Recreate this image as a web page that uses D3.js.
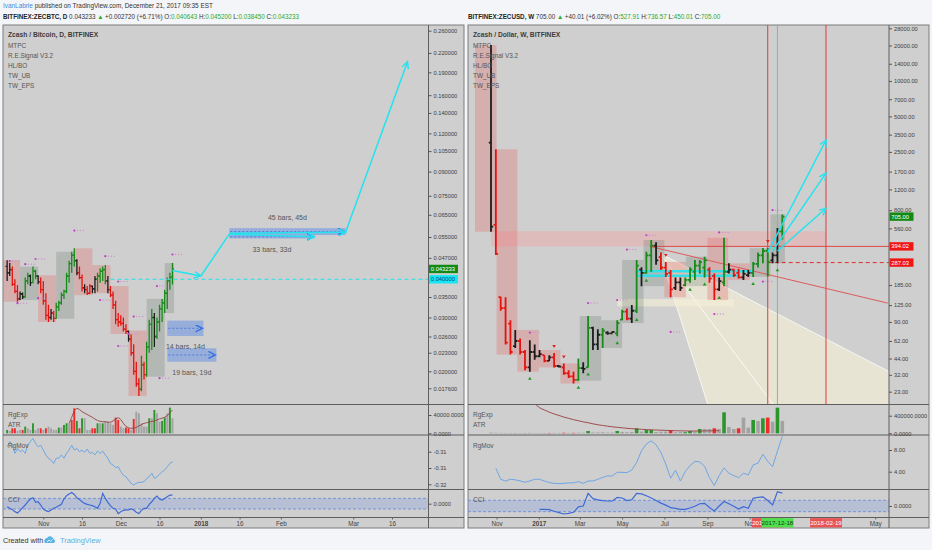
<!DOCTYPE html>
<html><head><meta charset="utf-8">
<script src="https://cdn.jsdelivr.net/npm/d3@7/dist/d3.min.js"></script>
<style>
html,body{margin:0;padding:0;background:#f3f5f8;}
svg{display:block;font-family:"Liberation Sans",Arial,sans-serif;}
</style></head><body>
<svg id="chart" width="932" height="550"></svg>
<script>
// ================= DATA : ZEC/BTC daily (Bitfinex) =================
const btcFirstDay = "2017-10-18";
const btcOpen  = [.0441,.0420,.0430,.0385,.0365,.0345,.0358,.0350,.0395,.0410,.0390,.0425,.0410,.0392,.0370,.0340,.0305,.0300,.0310,.0298,.0325,.0335,.0355,.0365,.0410,.0450,.0480,.0460,.0420,.0405,.0375,.0370,.0360,.0380,.0372,.0400,.0410,.0425,.0430,.0395,.0370,.0355,.0330,.0295,.0290,.0287,.0275,.0270,.0255,.0230,.0200,.0182,.0175,.0210,.0195,.0240,.0285,.0300,.0260,.0290,.0320,.0335,.0360,.0395,.040643];
const btcHigh  = [.0462,.0452,.0440,.0400,.0383,.0365,.0362,.0405,.0420,.0415,.0440,.0430,.0412,.0405,.0395,.0360,.0330,.0320,.0315,.0335,.0340,.0362,.0370,.0420,.0460,.0492,.0505,.0465,.0440,.0415,.0385,.0380,.0385,.0382,.0410,.0420,.0435,.0440,.0445,.0410,.0380,.0365,.0340,.0310,.0305,.0300,.0285,.0272,.0265,.0245,.0215,.0190,.0225,.0215,.0250,.0295,.0320,.0310,.0300,.0330,.0345,.0370,.0405,.0420,.0452];
const btcLow   = [.0395,.0410,.0380,.0360,.0338,.0342,.0345,.0348,.0385,.0380,.0388,.0400,.0385,.0360,.0330,.0295,.0290,.0295,.0290,.0297,.0315,.0330,.0345,.0360,.0390,.0420,.0440,.0412,.0400,.0365,.0360,.0355,.0358,.0360,.0360,.0365,.0390,.0395,.0385,.0360,.0350,.0320,.0285,.0280,.0282,.0270,.0265,.0250,.0225,.0195,.0178,.0166,.0172,.0188,.0192,.0230,.0235,.0240,.0255,.0270,.0290,.0310,.0320,.0370,.03845];
const btcClose = [.0420,.0430,.0385,.0365,.0345,.0358,.0350,.0395,.0410,.0390,.0425,.0410,.0392,.0370,.0340,.0305,.0300,.0310,.0298,.0325,.0335,.0355,.0365,.0410,.0450,.0480,.0460,.0420,.0405,.0375,.0370,.0360,.0380,.0372,.0400,.0410,.0425,.0430,.0395,.0370,.0355,.0330,.0295,.0290,.0287,.0275,.0270,.0255,.0230,.0200,.0182,.0175,.0210,.0195,.0240,.0285,.0300,.0260,.0290,.0320,.0335,.0360,.0395,.0406,.043233];
const btcState = "kkrrrkkggkggkrrrrkrggggggggkrrkrrkkggggkrrrrrrrkrrrrgrgggkgggggggg".slice(0,65).split("");
const btcVolume = [7300,5100,10900,10900,5100,7300,7300,14600,10900,7300,21900,7300,10900,10900,7300,10900,14600,10900,7300,7300,12400,12400,18200,21900,21900,29100,54600,27000,10900,32800,32800,7300,7300,10900,10900,21900,21900,21900,27000,25500,21900,18200,34300,29100,14600,10900,12400,10900,7300,31300,47400,43700,21900,14600,14600,32800,32800,51000,43700,25500,27000,34300,43700,56100,32800];
const btcVolState = "gkrrkkrgkkgkkrkrkkkkgkggkrrgrgkkkrrgkgkkkkrrkkrrkrkkkkkgkgkkggkgk".split("");
const btcAtrStart = 24;
const btcAtr = [21900,35000,50000,54600,52000,47400,44000,41000,38000,35000,31000,28000,26000,25500,25000,24500,24000,27000,31000,34300,30000,22000,15000,12000,10900,11000,13000,16000,19000,21900,23000,24500,26000,27000,29000,31300,33000,35000,38600,45000,51000];
const btcRgMov = [-0.3035,-0.3019,-0.3030,-0.3055,-0.3040,-0.3050,-0.3045,-0.3055,-0.3030,-0.3019,-0.3009,-0.3024,-0.3035,-0.3030,-0.3045,-0.3060,-0.3070,-0.3076,-0.3086,-0.3070,-0.3070,-0.3060,-0.3070,-0.3055,-0.3045,-0.3030,-0.3045,-0.3040,-0.3050,-0.3045,-0.3052,-0.3042,-0.3055,-0.3052,-0.3060,-0.3048,-0.3055,-0.3048,-0.3060,-0.3070,-0.3086,-0.3091,-0.3099,-0.3096,-0.3111,-0.3122,-0.3127,-0.3137,-0.3147,-0.3152,-0.3147,-0.3144,-0.3144,-0.3142,-0.3132,-0.3127,-0.3116,-0.3132,-0.3127,-0.3119,-0.3111,-0.3106,-0.3096,-0.3086,-0.3081];
const btcCci = [-56,-87,-112,-150,-175,-131,-75,-25,37,87,112,25,37,-25,-100,-131,-150,-118,-87,-68,-37,-12,87,150,181,212,175,112,81,37,6,-12,-25,-37,-56,-87,6,193,100,25,-37,-87,-100,-187,-150,-125,-118,-118,-100,-118,-162,-187,-125,-87,-87,-12,37,100,143,87,68,100,131,162,162];
const btcPriceTicks = [0.26,0.22,0.19,0.16,0.14,0.12,0.105,0.09,0.075,0.065,0.055,0.047,0.035,0.03,0.026,0.023,0.02,0.0176];
const btcDateTicks = [["2017-11-01","Nov"],["2017-11-16","16"],["2017-12-01","Dec"],["2017-12-16","16"],["2018-01-01","2018"],["2018-01-16","16"],["2018-02-01","Feb"],["2018-03-01","Mar"],["2018-03-16","16"]];
const btcVolTicks = [40000,0], btcVolTickLabels = ["40000.0000","0.0000"];
const btcMovTicks = [-0.305,-0.31,-0.315], btcMovTickLabels = ["-0.31","-0.31","-0.32"];
const btcDots = [[1,.0459],[7,.0448],[11,.0466],[26,.0577],[38,.0476],[43,.0393],[36,.0342],[12,.0347],[4,.0334],[64,.0482],[58,.0380],[43,.0242],[47,.0265],[49,.0302],[59,.0190]];
const btcRanges = [
  {from:"2017-12-19", to:"2018-01-02", lo:0.0261, hi:0.0293, label:"14 bars, 14d", pos:"below"},
  {from:"2017-12-19", to:"2018-01-07", lo:0.0215, hi:0.0238, label:"19 bars, 19d", pos:"below"},
  {from:"2018-01-12", to:"2018-02-26", lo:0.0558, hi:0.0588, label:"45 bars, 45d", pos:"above"},
  {from:"2018-01-12", to:"2018-02-14", lo:0.0544, hi:0.0558, label:"33 bars, 33d", pos:"below"}];
const btcArrows = [
  [["2017-12-21",0.0427],["2018-01-01",0.0410]],
  [["2018-01-12",0.0566],["2018-02-26",0.0570]],
  [["2018-01-12",0.0561],["2018-02-14",0.0551]],
  [["2018-02-26",0.0569],["2018-03-22",0.2059]]];
const btcLegs = [[["2018-01-01",0.0410],["2018-01-12",0.0562]]];
const btcDashLevel = {from:"2017-11-27", v:0.04};

// ================= DATA : ZEC/USD weekly (Bitfinex) =================
const zecFirstWeek = "2016-10-24";
const zecOpen  = [3000,600,146,118,87,56,62,50,37,50,46,47,42,45,38,37,33,31,29,36.5,37,80,58,70,73,72,72,94,110,96,112,250,235,330,400,320,260,235,175,195,185,205,240,270,260,250,220,170,195,240,250,235,215,225,235,280,330,360,300,330,527.91];
const zecHigh  = [20200,2630,147,146,93,77,65,52,63,58,52,47,47,49,38.5,40,35,34,44,41,101,82,78,80,75,75,93,114,117,125,302,262,354,446,428,349,291,248,214,214,214,262,302,302,322,262,232,214,466,283,254,254,248,248,291,349,381,381,349,565,736.57];
const zecLow   = [525,333,112,58,47.5,54,47.5,35,34,43,45,41,42,37,37,32,30,27,28.5,33,37,52,52,54,70,72,68,93,93,88,107,181,231,240,275,248,217,146,168,165,181,194,204,231,214,194,138,165,181,232,217,210,204,217,217,261,283,220,283,283,450.01];
const zecClose = [580,340,118,60,50,62,50,37,50,46,48,42,45,38,37.5,33,31,29,36.5,36,80,58,70,76,72,74,88,110,96,112,270,235,330,400,300,260,230,170,195,175,205,250,270,290,300,210,170,200,240,250,225,215,230,235,280,330,360,290,330,528,705];
const zecState = "krrrrkrrkkkrkrkrrrgkgkkgkkggrkgkggkrrrkkgggggrrkgkrrkkggggkkgg".split("");
const zecVolume = [15000,12000,10000,9000,8000,8000,7000,9000,11000,8000,7000,9000,8000,10000,9000,12000,11000,10000,14000,12000,52000,20000,18000,22000,15000,16000,52000,30000,25000,28000,114000,40000,75000,75000,30000,38000,40000,75000,25000,30000,25000,52000,40000,98000,98000,98000,114000,98000,477000,144000,98000,114000,356000,129000,303000,280000,341000,356000,265000,583000,280000];
const zecVolState = "kkkkkkkkkkkkrkkrkrkkgkkkkkgkkkgkggkkkrkkggkgkkrkgkkrkkgkgrkgk".split("");
const zecAtrStart = 8;
const zecAtr = [800000,680000,582000,530000,480000,440000,405000,370000,340000,310000,285000,260000,240000,215000,195000,178000,162000,148000,136000,125000,114000,105000,98000,90000,84000,79000,75000,70000,66000,62000,59000,56000,54000,52000,52000,52000,54000,56000,58000,60000];
const zecRgMovStart = 1;
const zecRgMov = [4.63,2.6,2.29,2.6,2.5,2.3,2.05,2.3,2.6,2.6,2.29,2.0,1.85,1.80,1.86,1.92,1.95,2.17,1.86,2.29,2.29,2.6,2.95,3.22,3.22,3.9,3.87,3.84,4.3,5.7,7.85,9.1,9.69,8.95,7.53,5.4,2.79,4.27,2.29,4.02,5.13,5.9,5.8,5.0,2.91,1.43,3.3,4.7,3.71,3.28,2.91,3.71,3.41,5.26,5.56,7.22,5.87,4.94,7.8,10.5];
const zecCciStart = 10;
const zecCci = [-58,-58,-65,-92,-115,-140,-129,-111,-15,0,220,130,108,95,88,88,150,140,95,110,220,212,180,140,95,50,15,-30,-41,-60,-60,-35,-5,40,47,-25,-88,0,80,40,-5,-55,-12,-41,134,150,160,95,18,251,225];
const zecPriceTicks = [28000,20000,14000,10000,7000,5000,3500,2500,1700,1200,800,560,185,125,90,62,44,32,23];
const zecDateTicks = [["2016-11-01","Nov"],["2017-01-01","2017"],["2017-03-01","Mar"],["2017-05-01","May"],["2017-07-01","Jul"],["2017-09-01","Sep"],["2017-11-01","Nov"],["2018-05-01","May"]];
const zecVolTicks = [400000,0], zecVolTickLabels = ["400000.0000","0.0000"];
const zecMovTicks = [8,4], zecMovTickLabels = ["8.00","4.00"];
const zecDots = [[8,73],[20,130],[26,138],[28,370],[32,490],[37,74],[46,105],[47,518],[56,198],[58,800]];
const zecUpMarks = [8,18,20,26,30,32,41,44,47,54,59];
const zecDownMarks = [13,15,36,57];
const zecPinkBand = {from:"2016-10-24", to:"2018-02-19", lo:394.02, hi:530};
const zecBeigeBand = {from:"2017-04-24", to:"2017-10-09", lo:122, hi:141};
const zecCyanLevels = [{from:"2017-05-22", to:"2017-11-06", v:242},{from:"2017-05-22", to:"2017-10-16", v:222}];
const zecRedLevel = {from:"2017-06-10", v:394.02};
const zecRedDashed = {from:"2017-11-27", v:287.03};
const zecTrend = [["2017-06-10",394.02],["2018-05-19",130]];
const zecFanApex = ["2017-06-24",346];
const zecFanEnds = [["2017-09-04",16.1],["2017-12-11",16.1],["2018-06-05",30.7]];
const zecTargets = [[["2017-11-27",350],["2018-02-19",3150]],[["2017-12-04",360],["2018-02-19",1650]],[["2017-12-11",360],["2018-02-19",830]]];
const zecVLines = [{d:"2017-11-27",c:"#e03c3c"},{d:"2017-12-11",c:"#62d462"},{d:"2018-02-19",c:"#e03c3c"}];
const zecFlags = [{d:"2017-11-27",t:"2017-11-27",bg:"#e85454",fg:"#fff"},{d:"2017-12-11",t:"2017-12-18",bg:"#4fe04f",fg:"#1a3a1a"},{d:"2018-02-19",t:"2018-02-19",bg:"#e85454",fg:"#fff"}];

// ================= DRAWING =================
const svg = d3.select("#chart");
const P = d3.utcParse("%Y-%m-%d");
const C = {bg:"#cfcfcf", frame:"#7c7c7c", sep:"#5e5e5e", text:"#474747", cyan:"#22e3ee"};
const barColor = {g:"#178a17", r:"#e3130f", k:"#1c1c1c"};
const volColor = {g:"#2c962c", r:"#ee2a2a", k:"#a2a2a2"};
const Y = {top:25, main:404.5, vol:435, mov:489.5, cci:517.5, bottom:528};
const FONT = "Liberation Sans, Arial, sans-serif";
const AX = 5.7;
const defs = svg.append("defs");

function addClip(id,x,y,w,h){defs.append("clipPath").attr("id",id).append("rect").attr("x",x).attr("y",y).attr("width",w).attr("height",h);}
function marker(id,color){
  defs.append("marker").attr("id",id).attr("markerUnits","userSpaceOnUse").attr("markerWidth",9).attr("markerHeight",9)
   .attr("refX",7).attr("refY",3.5).attr("orient","auto").attr("viewBox","0 0 9 9")
   .append("path").attr("d","M0,0L7,3.5L0,7").attr("fill","none").attr("stroke",color).attr("stroke-width",1.4);
}
marker("arrC",C.cyan); marker("arrB","#3a6fe0");

function frame(p){
  svg.append("rect").attr("x",p.x0).attr("y",Y.top).attr("width",p.x2-p.x0).attr("height",Y.bottom-Y.top)
    .attr("fill",C.bg).attr("stroke",C.frame).attr("stroke-width",1);
  addClip(p.id+"main",p.x0,Y.top,p.x1-p.x0,Y.main-Y.top);
  addClip(p.id+"vol",p.x0,Y.main,p.x1-p.x0,Y.vol-Y.main);
  addClip(p.id+"mov",p.x0,Y.vol,p.x1-p.x0,Y.mov-Y.vol);
  addClip(p.id+"cci",p.x0,Y.mov,p.x1-p.x0,Y.cci-Y.mov);
}
function separators(p){
  [Y.main,Y.vol,Y.mov,Y.cci].forEach(y=>svg.append("line").attr("x1",p.x0).attr("x2",p.x2).attr("y1",y).attr("y2",y)
     .attr("stroke",C.sep).attr("stroke-width",1.2));
  svg.append("line").attr("x1",p.x1).attr("x2",p.x1).attr("y1",Y.top).attr("y2",Y.bottom).attr("stroke",C.sep).attr("stroke-width",1);
}
function drawBars(g,rows,x,y,tw,sw){
  g.selectAll(null).data(rows).join("path")
   .attr("d",d=>{const X=x(d.date);return `M${X},${y(d.h)}V${y(d.l)}M${X-tw},${y(d.o)}H${X}M${X},${y(d.c)}H${X+tw}`;})
   .attr("fill","none").attr("stroke",d=>barColor[d.s]).attr("stroke-width",sw);
}
function boxes(g,rows,keyFn,endFn,x,y,lastX){
  const bx = d3.groups(rows,keyFn).map(([k,arr])=>({
    x0:x(k), x1:Math.min(x(endFn(k)),lastX), top:y(d3.max(arr,d=>d.h)), bot:y(d3.min(arr,d=>d.l)),
    up: arr[arr.length-1].c >= arr[0].o}));
  g.selectAll(null).data(bx).join("rect").attr("x",d=>d.x0).attr("y",d=>d.top).attr("width",d=>d.x1-d.x0).attr("height",d=>d.bot-d.top)
   .attr("fill",d=>d.up?"rgba(105,118,105,0.26)":"rgba(226,105,105,0.32)");
}
function priceAxis(p,scale,ticks,fmt){
  const g = svg.append("g").attr("transform",`translate(${p.x1},0)`)
    .call(d3.axisRight(scale).tickValues(ticks).tickSize(3).tickPadding(2).tickFormat(fmt));
  g.select(".domain").remove();
  g.attr("font-family",FONT).attr("font-size",AX);
  g.selectAll("text").attr("fill","#3e3e3e");
  g.selectAll("line").attr("stroke","#555");
}
function dateAxis(p,x,ticks){
  const map = new Map(ticks.map(t=>[+P(t[0]),t[1]]));
  const g = svg.append("g").attr("transform",`translate(0,${Y.cci})`)
    .call(d3.axisBottom(x).tickValues(ticks.map(t=>P(t[0]))).tickSize(2).tickPadding(2).tickFormat(d=>map.get(+d)));
  g.select(".domain").remove();
  g.attr("font-family",FONT).attr("font-size",6.3);
  g.selectAll("text").attr("fill","#444").attr("font-weight",d=>/^\d{4}$/.test(map.get(+d))?"bold":"normal");
  g.selectAll("line").attr("stroke","#666");
}
function priceTag(p,yv,text,bg,fg,w){
  svg.append("rect").attr("x",p.x1+0.5).attr("y",yv-4.2).attr("width",w).attr("height",8.4).attr("fill",bg);
  svg.append("text").attr("x",p.x1+2.3).attr("y",yv+2.1).attr("font-family",FONT).attr("font-size",5.8).attr("fill",fg).text(text);
}
function legend(p,title,lines){
  const t = svg.append("g").attr("font-family",FONT);
  t.append("text").attr("x",p.x0+5).attr("y",37).attr("font-size",6.7).attr("font-weight","bold").attr("fill","#3c3c3c").text(title);
  lines.forEach((s,i)=>t.append("text").attr("x",p.x0+5).attr("y",47.6+i*10.2).attr("font-size",6.4).attr("fill","#555").text(s));
}
function paneLabels(p){
  const t = svg.append("g").attr("font-family",FONT).attr("font-size",6.5).attr("fill","#555");
  t.append("text").attr("x",p.x0+5).attr("y",417).text("RgExp");
  t.append("text").attr("x",p.x0+5).attr("y",427).text("ATR");
  t.append("text").attr("x",p.x0+5).attr("y",448).text("RgMov");
  t.append("text").attr("x",p.x0+5).attr("y",502).text("CCI");
}
function sideAxis(p,scale,ticks,labels){
  const g = svg.append("g").attr("transform",`translate(${p.x1},0)`)
    .call(d3.axisRight(scale).tickValues(ticks).tickSize(3).tickPadding(2).tickFormat((d,i)=>labels[i]));
  g.select(".domain").remove();
  g.attr("font-family",FONT).attr("font-size",AX);
  g.selectAll("text").attr("fill","#3e3e3e");
  g.selectAll("line").attr("stroke","#555");
}
function dots(g,pts,x,y){
  pts.forEach(([d,v])=>{
    for(let j=0;j<4;j++) g.append("circle").attr("cx",x(d)+j*3).attr("cy",y(v)).attr("r",j===0?1.1:0.75)
      .attr("fill",j===0?"#c23cc8":"#c79ac9");
  });
}
function cciPane(g,p,x,rows,vals,start,scale){
  g.append("rect").attr("x",p.x0).attr("y",scale(100)).attr("width",p.x1-p.x0).attr("height",scale(-100)-scale(100)).attr("fill","rgba(120,150,225,0.28)");
  [100,-100].forEach(v=>g.append("line").attr("x1",p.x0).attr("x2",p.x1).attr("y1",scale(v)).attr("y2",scale(v))
     .attr("stroke","#6f8fd8").attr("stroke-dasharray","3,2").attr("stroke-width",0.9));
  g.append("path").datum(vals).attr("fill","none").attr("stroke","#3d6bd6").attr("stroke-width",1.2)
   .attr("d",d3.line().x((v,i)=>x(rows[i+start].date)).y(v=>scale(v)));
}

// -------- Left panel (ZEC/BTC daily) --------
const PL = {id:"L", x0:3, x1:428.5, x2:464};
frame(PL);
const xL = d3.scaleUtc().domain([P("2017-11-01"),P("2018-03-16")]).range([43.3,392]);
const yL = d3.scaleLog().domain([0.26,0.0176]).range([30.7,388.3]);
const btcRows = btcOpen.map((o,i)=>({date:d3.utcDay.offset(P(btcFirstDay),i),o,h:btcHigh[i],l:btcLow[i],c:btcClose[i],s:btcState[i]}));
const bd = i=>btcRows[i].date;
{
  const g = svg.append("g").attr("clip-path","url(#Lmain)");
  boxes(g,btcRows,d=>d3.utcMonday.floor(d.date),k=>d3.utcMonday.offset(k,1),xL,yL,xL(btcRows[btcRows.length-1].date)+1.6);
  drawBars(g,btcRows,xL,yL,1.6,1.3);
  g.append("line").attr("x1",xL(P(btcDashLevel.from))).attr("x2",PL.x1).attr("y1",yL(btcDashLevel.v)).attr("y2",yL(btcDashLevel.v))
   .attr("stroke",C.cyan).attr("stroke-width",1).attr("stroke-dasharray","4,3");
  btcRanges.forEach(r=>{
    const x0=xL(P(r.from)), x1=xL(P(r.to)), yt=yL(r.hi), yb=yL(r.lo);
    g.append("rect").attr("x",x0).attr("y",yt).attr("width",x1-x0).attr("height",yb-yt).attr("fill","rgba(60,120,240,0.38)");
    g.append("line").attr("x1",x0+1).attr("x2",x1-1).attr("y1",(yt+yb)/2).attr("y2",(yt+yb)/2).attr("stroke","#3a6fe0")
     .attr("stroke-width",0.8).attr("stroke-dasharray","2,2").attr("marker-end","url(#arrB)");
    g.append("text").attr("x",(x0+x1)/2).attr("y",r.pos==="below"?yb+13.5:yt-8).attr("text-anchor","middle")
     .attr("font-family",FONT).attr("font-size",7).attr("fill","#555").text(r.label);
  });
  btcLegs.forEach(s=>g.append("line").attr("x1",xL(P(s[0][0]))).attr("y1",yL(s[0][1])).attr("x2",xL(P(s[1][0]))).attr("y2",yL(s[1][1]))
     .attr("stroke",C.cyan).attr("stroke-width",1.5));
  btcArrows.forEach(s=>g.append("line").attr("x1",xL(P(s[0][0]))).attr("y1",yL(s[0][1])).attr("x2",xL(P(s[1][0]))).attr("y2",yL(s[1][1]))
     .attr("stroke",C.cyan).attr("stroke-width",1.5).attr("marker-end","url(#arrC)"));
  dots(g,btcDots.map(([i,v])=>[bd(i),v]),xL,yL);
}
const yLv = d3.scaleLinear().domain([0,40000]).range([433.3,415]);
{
  const g = svg.append("g").attr("clip-path","url(#Lvol)");
  g.selectAll(null).data(btcRows).join("rect").attr("x",d=>xL(d.date)-0.95).attr("width",1.9)
   .attr("y",(d,i)=>yLv(btcVolume[i])).attr("height",(d,i)=>yLv(0)-yLv(btcVolume[i])).attr("fill",(d,i)=>volColor[btcVolState[i]]);
  g.append("path").datum(btcAtr).attr("fill","none").attr("stroke","#9a3f3f").attr("stroke-width",0.9)
   .attr("d",d3.line().x((v,i)=>xL(bd(i+btcAtrStart))).y(v=>yLv(v)));
}
const yLm = d3.scaleLinear().domain([-0.305,-0.315]).range([451.7,484.3]);
{
  const g = svg.append("g").attr("clip-path","url(#Lmov)");
  g.append("path").datum(btcRgMov).attr("fill","none").attr("stroke","#6ea6e4").attr("stroke-width",1)
   .attr("d",d3.line().x((v,i)=>xL(bd(i))).y(v=>yLm(v)));
}
const yLc = d3.scaleLinear().domain([-100,100]).range([509,498.4]);
cciPane(svg.append("g").attr("clip-path","url(#Lcci)"),PL,xL,btcRows,btcCci,0,yLc);
separators(PL);
priceAxis(PL,yL,btcPriceTicks,d=>d.toFixed(6));
sideAxis(PL,yLv,btcVolTicks,btcVolTickLabels);
sideAxis(PL,yLm,btcMovTicks,btcMovTickLabels);
sideAxis(PL,yLc,[0],["0.0000"]);
dateAxis(PL,xL,btcDateTicks);
priceTag(PL,yL(0.043233),"0.043233","#138a13","#fff",29);
priceTag(PL,yL(0.04),"0.040000","#16e6f2","#0b3c84",29);
legend(PL,"Zcash / Bitcoin, D, BITFINEX",["MTPC","R.E.Signal V3.2","HL/BO","TW_UB","TW_EPS"]);
paneLabels(PL);

// -------- Right panel (ZEC/USD weekly) --------
const PR = {id:"R", x0:468, x1:889, x2:929};
frame(PR);
const xR = d3.scaleUtc().domain([P("2016-10-24"),P("2017-12-18")]).range([491,782.3]);
const yR = d3.scaleLog().domain([28000,23]).range([28.3,391.7]);
const zecRows = zecOpen.map((o,i)=>({date:d3.utcDay.offset(P(zecFirstWeek),7*i),o,h:zecHigh[i],l:zecLow[i],c:zecClose[i],s:zecState[i]}));
const zd = i=>zecRows[i].date;
{
  const g = svg.append("g").attr("clip-path","url(#Rmain)");
  const ap=[xR(P(zecFanApex[0])),yR(zecFanApex[1])];
  const ends = zecFanEnds.map(e=>[xR(P(e[0])),yR(e[1])]);
  g.append("path").attr("d",`M${ap}L${ends[0]}L${ends[2][0]},${ends[0][1]}L${ends[2]}Z`).attr("fill","rgba(246,240,214,0.62)");
  ends.forEach(e=>g.append("line").attr("x1",ap[0]).attr("y1",ap[1]).attr("x2",e[0]).attr("y2",e[1]).attr("stroke","rgba(255,255,255,0.85)").attr("stroke-width",0.9));
  g.append("rect").attr("x",xR(P(zecPinkBand.from))).attr("width",xR(P(zecPinkBand.to))-xR(P(zecPinkBand.from)))
   .attr("y",yR(zecPinkBand.hi)).attr("height",yR(zecPinkBand.lo)-yR(zecPinkBand.hi)).attr("fill","rgba(255,150,150,0.32)");
  g.append("rect").attr("x",xR(P(zecBeigeBand.from))).attr("width",xR(P(zecBeigeBand.to))-xR(P(zecBeigeBand.from)))
   .attr("y",yR(zecBeigeBand.hi)).attr("height",yR(zecBeigeBand.lo)-yR(zecBeigeBand.hi)).attr("fill","rgba(245,240,215,0.6)");
  boxes(g,zecRows,d=>d3.utcMonth.floor(d3.utcDay.offset(d.date,3)),k=>d3.utcMonth.offset(k,1),xR,yR,xR(zd(zecRows.length-1))+2.6);
  zecVLines.forEach(v=>g.append("line").attr("x1",xR(P(v.d))).attr("x2",xR(P(v.d))).attr("y1",Y.top).attr("y2",Y.main).attr("stroke",v.c).attr("stroke-width",1));
  g.append("line").attr("x1",xR(P(zecRedLevel.from))).attr("x2",PR.x1).attr("y1",yR(zecRedLevel.v)).attr("y2",yR(zecRedLevel.v)).attr("stroke","#e04848").attr("stroke-width",1);
  g.append("line").attr("x1",xR(P(zecRedDashed.from))).attr("x2",PR.x1).attr("y1",yR(zecRedDashed.v)).attr("y2",yR(zecRedDashed.v)).attr("stroke","#e03030").attr("stroke-width",1).attr("stroke-dasharray","4,3");
  g.append("line").attr("x1",xR(P(zecTrend[0][0]))).attr("y1",yR(zecTrend[0][1])).attr("x2",xR(P(zecTrend[1][0]))).attr("y2",yR(zecTrend[1][1])).attr("stroke","#de5a5a").attr("stroke-width",1);
  zecCyanLevels.forEach(l=>g.append("line").attr("x1",xR(P(l.from))).attr("x2",xR(P(l.to))).attr("y1",yR(l.v)).attr("y2",yR(l.v)).attr("stroke",C.cyan).attr("stroke-width",2.4).attr("opacity",0.9));
  drawBars(g,zecRows,xR,yR,2.2,1.8);
  g.selectAll(null).data(zecUpMarks).join("path").attr("d",k=>{const X=xR(zd(k)),Yy=yR(zecLow[k])+5;return `M${X-1.8},${Yy+3}L${X+1.8},${Yy+3}L${X},${Yy}Z`;}).attr("fill","#1f9a1f");
  g.selectAll(null).data(zecDownMarks).join("path").attr("d",k=>{const X=xR(zd(k)),Yy=yR(zecHigh[k])-5;return `M${X-1.8},${Yy-3}L${X+1.8},${Yy-3}L${X},${Yy}Z`;}).attr("fill","#e02020");
  dots(g,zecDots.map(([k,v])=>[zd(k),v]),xR,yR);
  zecTargets.forEach(s=>g.append("line").attr("x1",xR(P(s[0][0]))).attr("y1",yR(s[0][1])).attr("x2",xR(P(s[1][0]))).attr("y2",yR(s[1][1]))
     .attr("stroke",C.cyan).attr("stroke-width",1.4).attr("marker-end","url(#arrC)"));
}
const yRv = d3.scaleLinear().domain([0,400000]).range([433.3,415.7]);
{
  const g = svg.append("g").attr("clip-path","url(#Rvol)");
  g.selectAll(null).data(zecRows).join("rect").attr("x",d=>xR(d.date)-1.8).attr("width",3.6)
   .attr("y",(d,i)=>yRv(zecVolume[i])).attr("height",(d,i)=>yRv(0)-yRv(zecVolume[i])).attr("fill",(d,i)=>volColor[zecVolState[i]]);
  g.append("path").datum(zecAtr).attr("fill","none").attr("stroke","#9a3f3f").attr("stroke-width",0.9)
   .attr("d",d3.line().curve(d3.curveMonotoneX).x((v,i)=>xR(zd(i+zecAtrStart))).y(v=>yRv(v)));
}
const yRm = d3.scaleLinear().domain([4,8]).range([471.7,450]);
{
  const g = svg.append("g").attr("clip-path","url(#Rmov)");
  g.append("path").datum(zecRgMov).attr("fill","none").attr("stroke","#6ea6e4").attr("stroke-width",1)
   .attr("d",d3.line().x((v,i)=>xR(zd(i+zecRgMovStart))).y(v=>yRm(v)));
}
const yRc = d3.scaleLinear().domain([-100,100]).range([511.7,500.3]);
cciPane(svg.append("g").attr("clip-path","url(#Rcci)"),PR,xR,zecRows,zecCci,zecCciStart,yRc);
separators(PR);
priceAxis(PR,yR,zecPriceTicks,d=>d.toFixed(2));
sideAxis(PR,yRv,zecVolTicks,zecVolTickLabels);
sideAxis(PR,yRm,zecMovTicks,zecMovTickLabels);
sideAxis(PR,yRc,[0],["0.0000"]);
dateAxis(PR,xR,zecDateTicks);
zecFlags.forEach(f=>{
  const X=xR(P(f.d));
  svg.append("rect").attr("x",X-16).attr("y",Y.cci+0.6).attr("width",32).attr("height",Y.bottom-Y.cci-1.2).attr("fill",f.bg);
  svg.append("text").attr("x",X).attr("y",Y.cci+7.6).attr("text-anchor","middle").attr("font-family",FONT).attr("font-size",6.2).attr("fill",f.fg).text(f.t);
});
priceTag(PR,yR(705),"705.00","#138a13","#fff",24);
priceTag(PR,yR(394.02),"394.02","#f01616","#fff",24);
priceTag(PR,yR(287.03),"287.03","#f01616","#fff",24);
legend(PR,"Zcash / Dollar, W, BITFINEX",["MTPC","R.E.Signal V3.2","HL/BO","TW_UB","TW_EPS"]);
paneLabels(PR);

// -------- header & footer --------
const hdr = svg.append("g").attr("font-family",FONT);
const t1 = hdr.append("text").attr("x",3).attr("y",8).attr("font-size",6.4);
t1.append("tspan").attr("fill","#3b8fd8").text("IvanLabrie");
t1.append("tspan").attr("fill","#333").text(" published on TradingView.com, December 21, 2017 09:35 EST");
function quoteLine(x,sym,last,chg,o,h,l,c){
  const t = hdr.append("text").attr("x",x).attr("y",18.5).attr("font-size",6.3).attr("fill","#333");
  t.append("tspan").attr("font-weight","bold").attr("fill","#222").text(sym);
  t.append("tspan").text(" "+last+" ");
  t.append("tspan").attr("fill","#2da52d").text("▲");
  t.append("tspan").text(" "+chg+" O:");
  t.append("tspan").attr("fill","#2ea82e").text(o);
  t.append("tspan").text(" H:");
  t.append("tspan").attr("fill","#2ea82e").text(h);
  t.append("tspan").text(" L:");
  t.append("tspan").attr("fill","#2ea82e").text(l);
  t.append("tspan").text(" C:");
  t.append("tspan").attr("fill","#2ea82e").text(c);
}
quoteLine(3,"BITFINEX:ZECBTC, D","0.043233","+0.002720 (+6.71%)","0.040643","0.045200","0.038450","0.043233");
quoteLine(468,"BITFINEX:ZECUSD, W","705.00","+40.01 (+6.02%)","527.91","736.57","450.01","705.00");
const ft = svg.append("g").attr("font-family",FONT);
ft.append("text").attr("x",3).attr("y",542.5).attr("font-size",7.2).attr("fill","#333").text("Created with");
ft.append("path").attr("d","M45,543 a3,3 0 0 1 2,-5 a3.5,3.5 0 0 1 6.5,1 a2.2,2.2 0 0 1 0.5,4 Z").attr("fill","#5cb3e6");
ft.append("path").attr("d","M47,542 l2,-2 l1.5,1.5 l2,-2.2").attr("fill","none").attr("stroke","#fff").attr("stroke-width",0.8);
ft.append("text").attr("x",60).attr("y",542.5).attr("font-size",7.4).attr("fill","#5ab0e2").text("TradingView");
</script>
</body></html>
